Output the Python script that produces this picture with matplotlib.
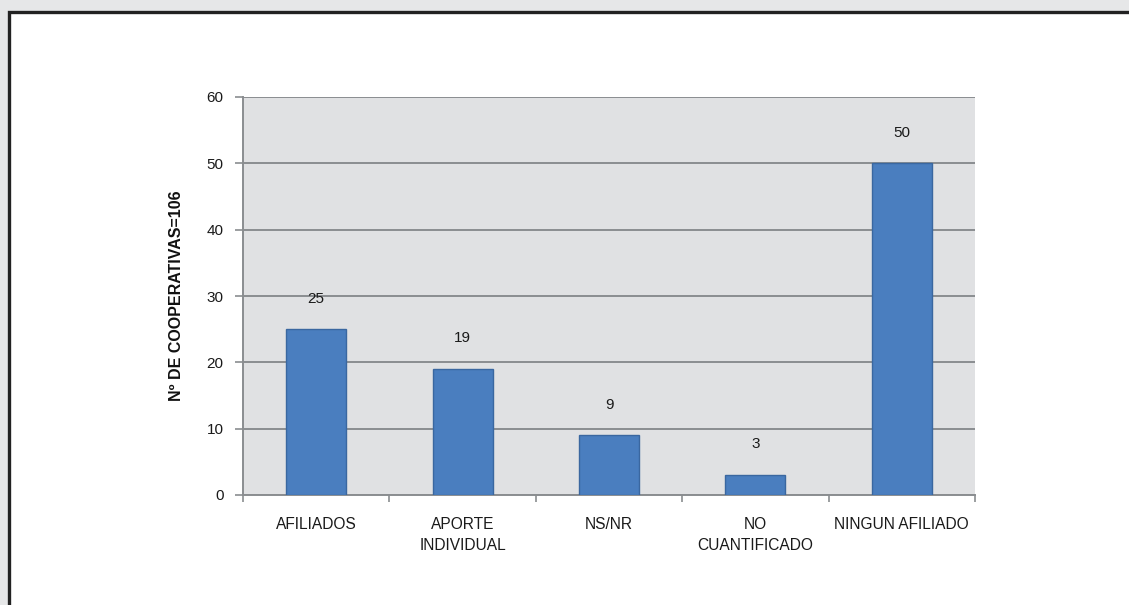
import numpy as np
import matplotlib
matplotlib.use('Agg')
import matplotlib.pyplot as plt
from matplotlib.patches import Rectangle

# Datos
categorias = ['AFILIADOS', 'APORTE\nINDIVIDUAL', 'NS/NR', 'NO\nCUANTIFICADO', 'NINGUN AFILIADO']
valores = [25, 19, 9, 3, 50]
yticks = [0, 10, 20, 30, 40, 50, 60]

plt.rcParams['font.family'] = ['Liberation Sans', 'DejaVu Sans']

fig = plt.figure(figsize=(11.29, 6.05), dpi=100, facecolor='#e6e7e8')
# marco blanco con borde negro
fig.patches.append(Rectangle((8.5/1129, -0.05), 1.2, 1 - 11.5/605 + 0.05,
                             transform=fig.transFigure, facecolor='white',
                             edgecolor='#222222', lw=2.4, zorder=-10))

ax = fig.add_axes([243/1129, 1 - 495/605, (975-243)/1129, (495-97)/605])
ax.set_facecolor('#e0e1e3')
x = np.arange(len(categorias))
ax.bar(x, valores, width=0.41, color='#4a7ebf', edgecolor='#3a67a0', lw=1.0, zorder=3)

for xi, v in zip(x, valores):
    ax.annotate(str(v), (xi, v), xytext=(0, 17), textcoords='offset points',
                ha='center', va='bottom', fontsize=11, color='#1a1a1a')

ax.set_ylim(0, 60)
ax.set_xlim(-0.5, len(categorias) - 0.5)
ax.set_yticks(yticks)
ax.yaxis.grid(True, color='#8a8d90', lw=1.4, zorder=1)
ax.set_axisbelow(True)

ax.set_xticks(x)
ax.set_xticklabels(categorias, fontsize=11.2, color='#1a1a1a', linespacing=1.5)
ax.tick_params(axis='x', length=0, pad=16)
ax.set_xticks(np.arange(len(categorias) + 1) - 0.5, minor=True)
ax.tick_params(axis='x', which='minor', length=5, color='#8a8d90', width=1.2)
ax.tick_params(axis='y', length=6, color='#8a8d90', width=1.2, labelsize=11,
               labelcolor='#1a1a1a', pad=8)

for s in ['top', 'right']:
    ax.spines[s].set_visible(False)
for s in ['left', 'bottom']:
    ax.spines[s].set_color('#8a8d90')
    ax.spines[s].set_linewidth(1.4)

ax.set_ylabel('Nº DE COOPERATIVAS=106', fontsize=11.5, fontweight='bold',
              family=['Liberation Sans Narrow', 'Liberation Sans', 'DejaVu Sans'],
              color='#111111', labelpad=16)

fig.savefig('out.png', dpi=100, facecolor=fig.get_facecolor())
